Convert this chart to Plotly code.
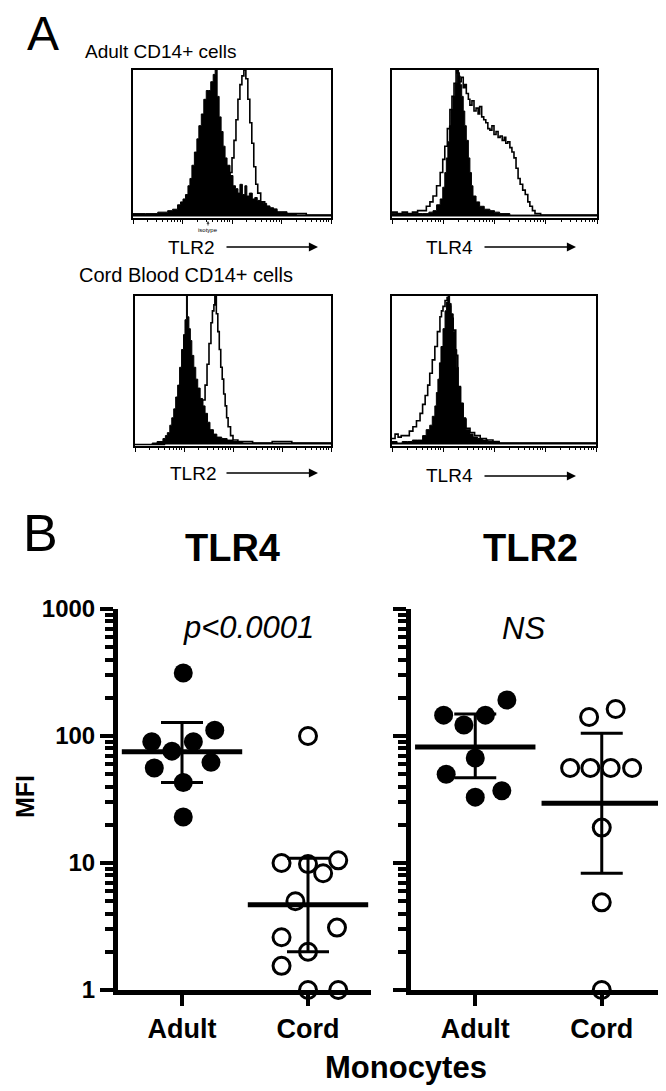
import numpy as np
import plotly.graph_objects as go

W, H = 666, 1091
OFF = 8  # the page body margin shifts the figure by this much
FONT = "Liberation Sans, Arial, sans-serif"

# ---------------- Panel A: flow histograms ----------------
# x = fluorescence in log decades (0..4), y = count normalised to peak
tl_iso_x = [0.00, 0.25, 0.50, 0.70, 0.80, 0.90, 0.96, 1.01, 1.06, 1.11, 1.15, 1.19, 1.24, 1.29, 1.33, 1.38, 1.43,
            1.48, 1.52, 1.57, 1.62, 1.66, 1.70, 1.74, 1.78, 1.82, 1.86, 1.90, 1.96, 2.02, 2.07, 2.12, 2.16, 2.21,
            2.26, 2.30, 2.35, 2.41, 2.46, 2.51, 2.57, 2.63, 2.70, 2.77, 2.84, 2.91, 3.00, 3.11, 3.30, 3.60, 4.00]
tl_iso_y = [0.02, 0.02, 0.03, 0.04, 0.05, 0.08, 0.10, 0.12, 0.15, 0.21, 0.26, 0.35, 0.44, 0.53, 0.62, 0.70, 0.80,
            0.86, 0.86, 0.92, 0.97, 1.00, 0.82, 0.68, 0.58, 0.48, 0.40, 0.35, 0.28, 0.21, 0.19, 0.16, 0.22, 0.15,
            0.21, 0.14, 0.16, 0.12, 0.13, 0.11, 0.10, 0.09, 0.07, 0.06, 0.05, 0.03, 0.03, 0.02, 0.01, 0.01, 0.01]
tl_ab_x = [0.0, 0.5, 1.0, 1.3, 1.5, 1.6, 1.7, 1.8, 1.86, 1.92, 1.96, 2.00, 2.04, 2.08, 2.12, 2.16, 2.20, 2.24,
           2.28, 2.32, 2.36, 2.40, 2.44, 2.48, 2.52, 2.58, 2.66, 2.75, 2.90, 3.10, 3.50, 4.0]
tl_ab_y = [0.01, 0.01, 0.02, 0.03, 0.05, 0.07, 0.10, 0.14, 0.18, 0.24, 0.30, 0.40, 0.52, 0.66, 0.80, 0.90, 0.96,
           1.00, 0.94, 0.80, 0.64, 0.50, 0.34, 0.22, 0.16, 0.10, 0.07, 0.05, 0.03, 0.02, 0.01, 0.01]

tr_iso_x = [0.00, 0.30, 0.60, 0.72, 0.80, 0.87, 0.94, 0.99, 1.03, 1.06, 1.09, 1.12, 1.15, 1.19, 1.23, 1.27, 1.30,
            1.33, 1.36, 1.39, 1.42, 1.45, 1.49, 1.52, 1.55, 1.58, 1.64, 1.71, 1.80, 1.91, 2.00, 2.10, 2.30, 2.70, 4.00]
tr_iso_y = [0.02, 0.02, 0.02, 0.03, 0.04, 0.08, 0.12, 0.20, 0.30, 0.40, 0.51, 0.62, 0.73, 0.82, 0.91, 1.00, 0.96,
            0.90, 0.82, 0.72, 0.62, 0.52, 0.40, 0.30, 0.21, 0.14, 0.10, 0.07, 0.05, 0.04, 0.03, 0.02, 0.01, 0.01, 0.01]
tr_ab_x = [0.00, 0.10, 0.20, 0.30, 0.40, 0.50, 0.60, 0.67, 0.74, 0.80, 0.87, 0.94, 0.99, 1.03, 1.08, 1.13, 1.17,
           1.21, 1.25, 1.28, 1.31, 1.35, 1.39, 1.42, 1.45, 1.49, 1.52, 1.56, 1.60, 1.64, 1.68, 1.71, 1.75, 1.79,
           1.83, 1.87, 1.91, 1.95, 1.99, 2.03, 2.07, 2.11, 2.15, 2.19, 2.22, 2.26, 2.30, 2.34, 2.38, 2.42, 2.46,
           2.50, 2.55, 2.60, 2.65, 2.69, 2.74, 2.79, 2.90, 3.20, 4.00]
tr_ab_y = [0.03, 0.02, 0.03, 0.02, 0.03, 0.04, 0.04, 0.07, 0.10, 0.14, 0.21, 0.30, 0.39, 0.48, 0.60, 0.73, 0.82,
           0.91, 1.00, 0.98, 0.92, 0.95, 0.88, 0.90, 0.84, 0.80, 0.76, 0.79, 0.72, 0.74, 0.70, 0.75, 0.68, 0.66,
           0.64, 0.60, 0.59, 0.62, 0.56, 0.58, 0.54, 0.55, 0.52, 0.54, 0.50, 0.51, 0.47, 0.44, 0.40, 0.33, 0.26,
           0.22, 0.18, 0.15, 0.10, 0.07, 0.04, 0.02, 0.01, 0.01, 0.01]

bl_iso_x = [0.00, 0.20, 0.35, 0.45, 0.57, 0.62, 0.66, 0.71, 0.75, 0.79, 0.83, 0.87, 0.91, 0.95, 0.99, 1.02, 1.05,
            1.07, 1.10, 1.13, 1.16, 1.20, 1.24, 1.28, 1.33, 1.38, 1.43, 1.48, 1.53, 1.60, 1.67, 1.77, 1.88, 2.00,
            2.20, 2.50, 2.90, 3.30, 4.00]
bl_iso_y = [0.00, 0.00, 0.01, 0.02, 0.04, 0.06, 0.08, 0.13, 0.18, 0.24, 0.32, 0.40, 0.52, 0.64, 0.74, 0.84, 1.00,
            0.86, 0.78, 0.70, 0.60, 0.52, 0.44, 0.38, 0.31, 0.26, 0.21, 0.15, 0.10, 0.07, 0.05, 0.04, 0.03, 0.02,
            0.01, 0.01, 0.01, 0.01, 0.00]
bl_ab_x = [0.00, 0.60, 0.90, 1.10, 1.25, 1.33, 1.38, 1.43, 1.47, 1.51, 1.55, 1.58, 1.61, 1.63, 1.66, 1.69, 1.72,
           1.75, 1.78, 1.81, 1.84, 1.87, 1.90, 1.95, 2.00, 2.10, 2.40, 2.80, 3.20, 4.00]
bl_ab_y = [0.00, 0.01, 0.02, 0.06, 0.14, 0.22, 0.30, 0.40, 0.54, 0.68, 0.82, 0.90, 0.94, 1.00, 0.88, 0.76, 0.64,
           0.52, 0.44, 0.34, 0.26, 0.18, 0.12, 0.06, 0.03, 0.02, 0.01, 0.02, 0.01, 0.01]

br_iso_x = [0.00, 0.10, 0.20, 0.30, 0.40, 0.50, 0.60, 0.67, 0.74, 0.79, 0.84, 0.87, 0.90, 0.93, 0.96, 1.00, 1.04,
            1.07, 1.10, 1.13, 1.16, 1.20, 1.24, 1.27, 1.30, 1.35, 1.40, 1.45, 1.52, 1.59, 1.68, 1.78, 1.88, 1.98,
            2.10, 2.50, 3.00, 4.00]
br_iso_y = [0.02, 0.01, 0.02, 0.02, 0.03, 0.03, 0.06, 0.10, 0.13, 0.19, 0.26, 0.35, 0.44, 0.55, 0.66, 0.78, 0.90,
            0.96, 1.00, 0.95, 0.88, 0.76, 0.64, 0.52, 0.39, 0.28, 0.18, 0.10, 0.07, 0.05, 0.04, 0.03, 0.02, 0.02,
            0.01, 0.01, 0.01, 0.01]
br_ab_x = [0.00, 0.06, 0.12, 0.18, 0.27, 0.34, 0.41, 0.48, 0.55, 0.60, 0.65, 0.70, 0.74, 0.79, 0.84, 0.89, 0.94,
           0.97, 1.00, 1.04, 1.08, 1.11, 1.15, 1.20, 1.25, 1.29, 1.34, 1.39, 1.45, 1.53, 1.62, 1.73, 1.85, 1.98,
           2.10, 2.50, 3.00, 4.00]
br_ab_y = [0.04, 0.07, 0.05, 0.06, 0.06, 0.09, 0.12, 0.16, 0.21, 0.27, 0.33, 0.40, 0.48, 0.57, 0.66, 0.76, 0.86,
           0.90, 0.93, 0.97, 0.99, 0.93, 0.85, 0.77, 0.60, 0.39, 0.27, 0.17, 0.11, 0.08, 0.06, 0.04, 0.03, 0.02,
           0.01, 0.01, 0.01, 0.01]

# ---------------- Panel B: MFI per donor ----------------
groups = ["Adult", "Cord"]
tlr4_adult = [313, 111, 90, 90, 76, 56, 62, 43, 23]
tlr4_adult_jit = [0.01, 0.26, -0.24, 0.09, -0.08, -0.22, 0.23, 0.01, 0.01]
tlr4_cord = [100, 10, 9.8, 10.5, 8.3, 5.0, 3.1, 2.6, 2.0, 1.55, 1, 1]
tlr4_cord_jit = [0.0, -0.21, 0.0, 0.24, 0.12, -0.10, 0.23, -0.21, 0.0, -0.21, 0.0, 0.24]
tlr4_mean = [75, 4.7]
tlr4_hi = [128, 10.9]
tlr4_lo = [43, 2.0]

tlr2_adult = [192, 146, 146, 122, 67, 50, 37, 33]
tlr2_adult_jit = [0.25, -0.25, 0.08, -0.09, 0.0, -0.23, 0.21, 0.0]
tlr2_cord = [163, 141, 56, 56, 56, 56, 19, 4.9, 1]
tlr2_cord_jit = [0.11, -0.10, -0.25, -0.09, 0.07, 0.24, 0.0, 0.0, 0.0]
tlr2_mean = [82, 29.6]
tlr2_hi = [149, 105]
tlr2_lo = [47, 8.3]


def px(x):
    return (x - OFF) / W


def py(y):
    return 1 - (y - OFF) / H


fig = go.Figure()

hist_panels = [
    ("x", "y", tl_iso_x, tl_iso_y, tl_ab_x, tl_ab_y, (133, 331), (70, 218)),
    ("x2", "y2", tr_iso_x, tr_iso_y, tr_ab_x, tr_ab_y, (392, 597), (70, 218)),
    ("x3", "y3", bl_iso_x, bl_iso_y, bl_ab_x, bl_ab_y, (135, 331), (296, 446)),
    ("x4", "y4", br_iso_x, br_iso_y, br_ab_x, br_ab_y, (392, 596), (296, 446)),
]

minor_pos = [k + np.log10(m) for k in range(4) for m in range(2, 10)]

for i, (xa, ya, ix, iy, ax_, ay_, xd, yd) in enumerate(hist_panels):
    fig.add_trace(go.Scatter(x=ix, y=iy, xaxis=xa, yaxis=ya, mode="lines",
                             line=dict(shape="hv", color="black", width=1),
                             fill="tozeroy", fillcolor="black", hoverinfo="skip"))
    fig.add_trace(go.Scatter(x=ax_, y=ay_, xaxis=xa, yaxis=ya, mode="lines",
                             line=dict(shape="hv", color="black", width=1.6), hoverinfo="skip"))
    n = "" if i == 0 else str(i + 1)
    fig.layout["xaxis" + n] = dict(
        domain=[px(xd[0]), px(xd[1])], anchor=ya, range=[0, 4], automargin=False,
        showline=True, mirror=True, linecolor="black", linewidth=1.5,
        ticks="outside", tickvals=[0, 1, 2, 3, 4], ticklen=4, tickwidth=1, tickcolor="black",
        showticklabels=False, showgrid=False, zeroline=False,
        minor=dict(tickvals=minor_pos, ticks="outside", ticklen=2, tickwidth=1,
                   tickcolor="black", showgrid=False),
    )
    fig.layout["yaxis" + n] = dict(
        domain=[py(yd[1]), py(yd[0])], anchor=xa, range=[-0.01, 1.0], automargin=False,
        showline=True, mirror=True, linecolor="black", linewidth=1.5,
        ticks="", showticklabels=False, showgrid=False, zeroline=False,
    )

# scatter panels
scatter_panels = [
    ("x5", "y5", tlr4_adult, tlr4_adult_jit, tlr4_cord, tlr4_cord_jit, tlr4_mean, tlr4_hi, tlr4_lo, (118, 371)),
    ("x6", "y6", tlr2_adult, tlr2_adult_jit, tlr2_cord, tlr2_cord_jit, tlr2_mean, tlr2_hi, tlr2_lo, (411, 665)),
]

minor_y = [m * 10 ** k for k in range(3) for m in range(2, 10)]

for j, (xa, ya, ad, adj, co, coj, mean, hi, lo, xd) in enumerate(scatter_panels):
    fig.add_trace(go.Scatter(x=[0 + d for d in adj], y=ad, xaxis=xa, yaxis=ya, mode="markers",
                             marker=dict(size=19, color="black"), cliponaxis=False))
    fig.add_trace(go.Scatter(x=[1 + d for d in coj], y=co, xaxis=xa, yaxis=ya, mode="markers",
                             marker=dict(size=17, symbol="circle-open", color="black",
                                         line=dict(width=3, color="black")), cliponaxis=False))
    fig.add_trace(go.Scatter(
        x=[0, 1], y=mean, xaxis=xa, yaxis=ya, mode="markers", cliponaxis=False,
        marker=dict(symbol="line-ew", size=86, color="black", line=dict(width=5, color="black")),
        error_y=dict(type="data", symmetric=False,
                     array=[h - m for h, m in zip(hi, mean)],
                     arrayminus=[m - l for m, l in zip(mean, lo)],
                     thickness=3, width=21, color="black"),
    ))
    n = str(5 + j)
    fig.layout["xaxis" + n] = dict(
        domain=[px(xd[0]), px(xd[1])], anchor=ya, range=[-0.508, 1.5], automargin=False,
        showline=True, linecolor="black", linewidth=5,
        ticks="outside", tickvals=[0, 1], ticktext=["<b>%s</b>" % g for g in groups],
        ticklen=11, tickwidth=4, tickcolor="black",
        tickfont=dict(family=FONT, size=27, color="black"),
        showgrid=False, zeroline=False,
    )
    fig.layout["yaxis" + n] = dict(
        domain=[py(990), py(609)], anchor=xa, type="log", range=[0, 3], automargin=False,
        showline=True, linecolor="black", linewidth=5,
        ticks="outside", tickvals=[1, 10, 100, 1000],
        ticktext=["<b>1</b>", "<b>10</b>", "<b>100</b>", "<b>1000</b>"],
        showticklabels=(j == 0),
        ticklen=13, tickwidth=4, tickcolor="black",
        tickfont=dict(family=FONT, size=24, color="black"),
        minor=dict(tickvals=minor_y, ticks="outside", ticklen=8, tickwidth=4,
                   tickcolor="black", showgrid=False),
        showgrid=False, zeroline=False,
    )


def label(x, y, text, size, xanchor="center", **kw):
    fig.add_annotation(x=px(x), y=py(y), xref="paper", yref="paper", text=text,
                       xanchor=xanchor, yanchor="middle",
                       showarrow=False, font=dict(family=FONT, size=size, color="black"), **kw)


def arrow(x0, x1, y):
    fig.add_annotation(x=px(x1), y=py(y), xref="paper", yref="paper", text="",
                       showarrow=True, ax=-(x1 - x0), ay=0, arrowhead=2, arrowsize=1.4,
                       arrowwidth=1.3, arrowcolor="black")


label(43, 33, "A", 48)
label(40, 533, "B", 52)
label(83, 52, "Adult CD14+ cells", 19, xanchor="left")
label(77, 275, "Cord Blood CD14+ cells", 20, xanchor="left")

fig.add_annotation(x=px(208), y=py(221), xref="paper", yref="paper", text="isotype",
                   showarrow=True, ax=0, ay=9, arrowhead=2, arrowsize=0.6, arrowwidth=1,
                   font=dict(family=FONT, size=6, color="black"))

for (cx, cy, t) in [(191, 247, "TLR2"), (449, 247, "TLR4"), (193, 473, "TLR2"), (449, 476, "TLR4")]:
    label(cx, cy, t, 19)
arrow(225, 318, 247)
arrow(483, 576, 247)
arrow(225, 318, 473)
arrow(483, 576, 476)

label(232, 548, "<b>TLR4</b>", 38)
label(530, 548, "<b>TLR2</b>", 38)
label(248, 627, "<i>p&lt;0.0001</i>", 31)
label(523, 628, "<i>NS</i>", 31)
label(25, 797, "<b>MFI</b>", 25, textangle=-90)
label(406, 1067, "<b>Monocytes</b>", 31)

fig.update_layout(
    template="none",
    width=W, height=H, margin=dict(l=0, r=0, t=0, b=0, pad=0, autoexpand=False),
    paper_bgcolor="white", plot_bgcolor="white", showlegend=False,
    font=dict(family=FONT, color="black"),
)

fig.write_html("out.html")
